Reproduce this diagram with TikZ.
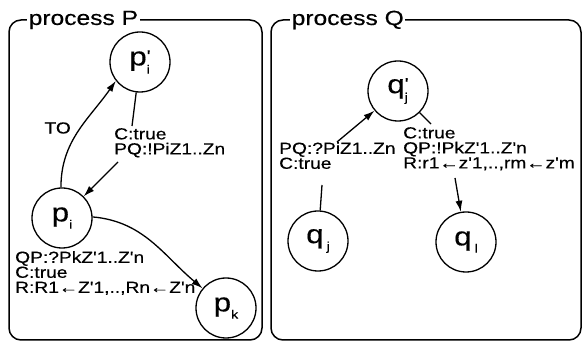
\documentclass[tikz,border=0pt]{standalone}
\usepackage{fontspec}
\setmainfont{Liberation Sans}[FakeStretch=1.2,FakeBold=0.4,Ligatures=TeXOff]
\usetikzlibrary{arrows.meta}
\newcommand{\stk}[2]{\raisebox{-0.32em}{\fontsize{12}{10}\selectfont\shortstack[l]{\fontsize{17}{10}\selectfont #1\\#2}}}
\newcommand{\sbs}[1]{\raisebox{-0.28em}{\fontsize{12}{12}\selectfont #1}}
\tikzset{
  st/.style={circle,draw,line width=1.3pt,minimum size=60pt,inner sep=0pt,font=\fontsize{26}{26}\selectfont},
  boxframe/.style={line width=1.5pt,rounded corners=12pt},
  ttl/.style={fill=white,anchor=west,inner xsep=1.5pt,inner ysep=0pt,font=\fontsize{20.5}{20.5}\selectfont},
  lab/.style={anchor=north west,align=left,inner sep=0pt,font=\fontsize{16}{15}\selectfont},
  conn/.style={line width=1.3pt},
  arr/.style={conn,-{Latex[length=11pt,width=7pt]}}
}
\begin{document}
\begin{tikzpicture}[x=1pt,y=1pt]
\useasboundingbox (0,0) rectangle (583,345);
% frames
\draw[boxframe] (9,5) rectangle (262,325);
\draw[boxframe] (271,5) rectangle (581,325);
\node[ttl] (tP) at (27,325) {process P};
\node[ttl] (tQ) at (290,325) {process Q};
% nodes P
\node[st] (pp) at (140,283) {p\stk{'}{i}};
\node[st] (p) at (62,127) {p\sbs{i}};
\node[st] (pk) at (226,37) {p\sbs{k}};
% nodes Q
\node[st] (qq) at (398,254) {q\stk{'}{j}};
\node[st] (qj) at (318,104) {q\hspace{3pt}\sbs{j}};
\node[st] (ql) at (466,103) {q\hspace{3pt}\sbs{l}};
% labels
\node[lab,anchor=east] (to) at (71,217) {TO};
\node[lab] (l1) at (114,217) {C:true\\PQ:!PiZ1..Zn};
\node[lab] (l2) at (15,94) {QP:?PkZ'1..Z'n\\C:true\\R:R1←Z'1,..,Rn←Z'n};
\node[lab] (l3) at (279,203) {PQ:?PiZ1..Zn\\C:true};
\node[lab] (l4) at (403,218) {C:true\\QP:!PkZ'1..Z'n\\R:r1←z'1,..,rm←z'm};
% connector break points
\coordinate (a1) at (132,219);
\coordinate (a2) at (118,183);
\coordinate (b1) at (322,160);
\coordinate (b2) at (337,203);
\coordinate (c1) at (431,221);
\coordinate (c2) at (455,167);
% connectors P
\draw[arr] (p.92) to[out=90,in=235] (pp.218);
\draw[conn] (pp) -- (a1);
\draw[arr] (a2) -- (p);
\draw[arr] (p.2) to[out=-5,in=140] (pk.140);
% connectors Q
\draw[conn] (qj) -- (b1);
\draw[arr] (b2) -- (qq);
\draw[conn] (qq) -- (c1);
\draw[arr] (c2) -- (ql);
\end{tikzpicture}
\end{document}
